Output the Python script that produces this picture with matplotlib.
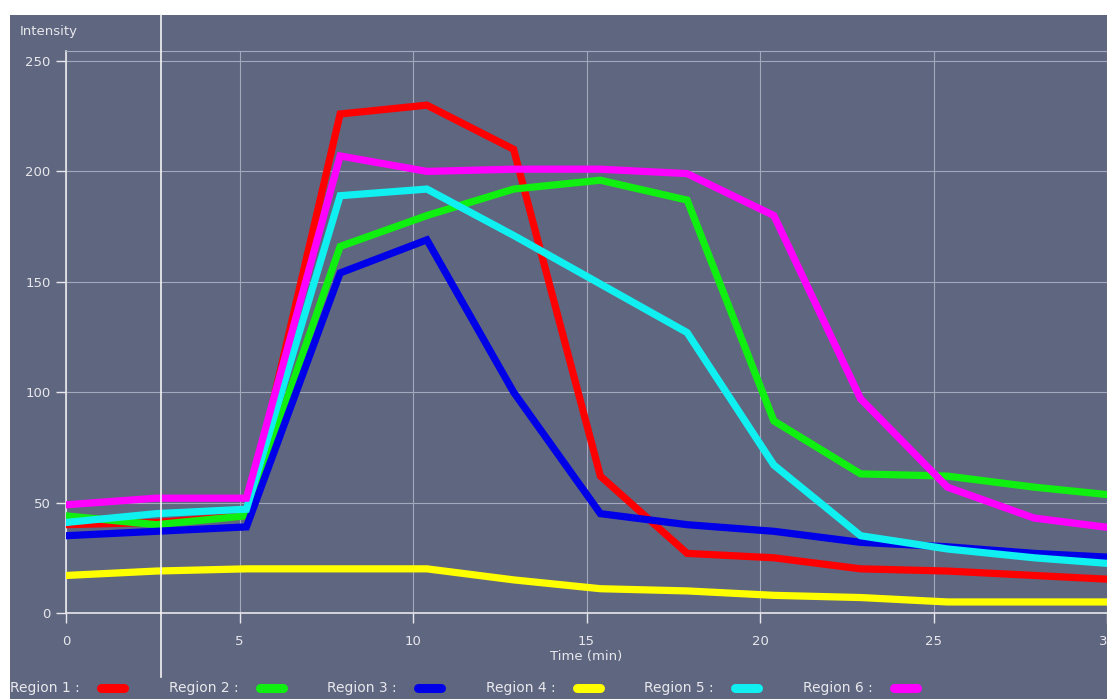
import matplotlib.pyplot as plt
from matplotlib.lines import Line2D
from matplotlib.patches import Rectangle

# sampling times (min)
time = [0, 2.6, 5.2, 7.9, 10.4, 12.9, 15.4, 17.9, 20.4, 22.9, 25.4, 27.9, 30.4]

region1 = [40, 41, 44, 226, 230, 210, 62, 27, 25, 20, 19, 17, 15]
region2 = [44, 40, 44, 166, 180, 192, 196, 187, 87, 63, 62, 57, 53]
region3 = [35, 37, 39, 154, 169, 100, 45, 40, 37, 32, 30, 27, 25]
region4 = [17, 19, 20, 20, 20, 15, 11, 10, 8, 7, 5, 5, 5]
region5 = [41, 45, 47, 189, 192, 171, 149, 127, 67, 35, 29, 25, 22]
region6 = [49, 52, 52, 207, 200, 201, 201, 199, 180, 97, 57, 43, 38]

labels = ["Region 1", "Region 2", "Region 3", "Region 4", "Region 5", "Region 6"]
colors = ["#ff0000", "#10f010", "#0000e8", "#ffff00", "#10f0f0", "#ff00ff"]
series = [region1, region2, region3, region4, region5, region6]

y_ticks = [0, 50, 100, 150, 200, 250]
x_ticks = [0, 5, 10, 15, 20, 25, 30]

bg = "#5f6680"
fg = "#e8e8ec"
grid = "#a4a8bc"

plt.rcParams['font.family'] = ['DejaVu Sans']

W, H = 1107, 699
fig = plt.figure(figsize=(W / 100, H / 100), dpi=100, facecolor="white")

# slate panel behind everything
fig.patches.append(Rectangle((10 / W, 0), 1 - 10 / W, 1 - 15 / H,
                             transform=fig.transFigure, facecolor=bg,
                             edgecolor="none", zorder=-5))

ax = fig.add_axes([66 / W, 86 / H, 1 - 66 / W, (613 - 51) / H])
ax.set_zorder(1)
ax.set_facecolor(bg)
ax.set_xlim(0, (W - 66) / 34.9)
ax.set_ylim(0, 562 / 2.208)

for vals, c in zip(series, colors):
    ax.plot(time, vals, color=c, lw=5.2, solid_joinstyle='miter', zorder=3)

ax.set_xticks(x_ticks)
ax.set_yticks(y_ticks)
ax.grid(True, color=grid, lw=0.8)
ax.set_axisbelow(True)
ax.tick_params(colors=fg, labelcolor=fg, labelsize=9.5, length=7, width=1,
               pad=9)
ax.tick_params(axis='y', pad=4)
ax.spines["right"].set_visible(False)
ax.spines["top"].set_color(grid)
ax.spines["top"].set_linewidth(0.8)
for side in ["left", "bottom"]:
    ax.spines[side].set_color(fg)
    ax.spines[side].set_linewidth(1.2)

ax.set_xlabel("Time (min)", color=fg, fontsize=9.5, labelpad=1)
fig.text(20 / W, 1 - 31 / H, "Intensity", color=fg, fontsize=9.5,
         va="center", ha="left")

# cursor line
fig.add_artist(Line2D([161 / W, 161 / W], [1 - 677 / H, 1 - 15 / H],
                      transform=fig.transFigure, color="#f4f4f4", lw=1.2,
                      zorder=5))

# legend row along the bottom
for i, (lab, c) in enumerate(zip(labels, colors)):
    x0 = 10 + 158.6 * i
    fig.text(x0 / W, 1 - 688 / H, lab + " :", color=fg, fontsize=10,
             va="center", ha="left")
    px = 101 + 158.6 * i
    fig.add_artist(Line2D([px / W, (px + 23) / W], [1 - 688 / H, 1 - 688 / H],
                          transform=fig.transFigure, color=c, lw=6.5,
                          solid_capstyle='round'))

fig.savefig("out.png", dpi=100, facecolor="white")
